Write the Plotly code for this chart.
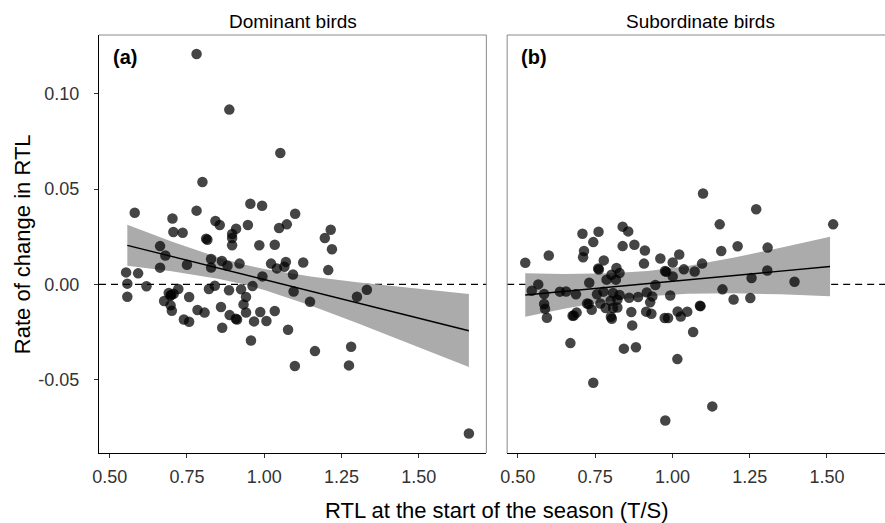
import plotly.graph_objects as go

# ---------------- data ----------------
dom_x = [0.781, 0.887, 1.052, 0.800, 0.581, 0.703, 0.781, 0.842, 0.856, 0.909, 0.947, 0.955, 0.993,
         1.048, 1.073, 1.100, 1.215, 0.706, 0.736, 1.196, 1.219, 0.896, 0.896, 0.896, 0.812, 0.816,
         0.984, 1.034, 0.663, 0.680, 0.663, 0.750, 0.828, 0.828, 0.863, 0.881, 0.920, 1.022, 1.070,
         1.041, 1.065, 1.126, 1.207, 1.093, 0.994, 0.553, 0.592, 0.557, 0.619, 0.557, 0.691, 0.707,
         0.697, 0.699, 0.722, 0.676, 0.697, 0.701, 0.757, 0.740, 0.757, 0.784, 0.807, 0.821, 0.840,
         0.886, 0.925, 0.962, 0.941, 0.933, 0.941, 0.860, 0.888, 0.908, 0.912, 0.987, 1.034, 0.967,
         1.007, 0.864, 0.957, 1.077, 1.095, 1.148, 1.300, 1.332, 1.164, 1.099, 1.281, 1.274, 1.662]
dom_y = [0.1209, 0.0917, 0.0689, 0.0537, 0.0376, 0.0346, 0.0387, 0.0333, 0.0312, 0.0292, 0.0312,
         0.0423, 0.0413, 0.0296, 0.0315, 0.0371, 0.0287, 0.0275, 0.0271, 0.0243, 0.0184, 0.0264,
         0.0243, 0.0205, 0.0240, 0.0234, 0.0205, 0.0208, 0.0201, 0.0152, 0.0088, 0.0103, 0.0133,
         0.0089, 0.0123, 0.0098, 0.0109, 0.0109, 0.0118, 0.0084, 0.0093, 0.0115, 0.0075, 0.0052,
         0.0042, 0.0063, 0.0058, 0.0004, -0.0010, -0.0065, -0.0045, -0.0049, -0.0059, -0.0055,
         -0.0024, -0.0087, -0.0110, -0.0138, -0.0066, -0.0184, -0.0196, -0.0134, -0.0148, -0.0024,
         -0.0007, -0.0031, -0.0026, -0.0009, -0.0066, -0.0105, -0.0147, -0.0119, -0.0161, -0.0180,
         -0.0184, -0.0145, -0.0140, -0.0194, -0.0192, -0.0227, -0.0294, -0.0238, -0.0037, -0.0091,
         -0.0065, -0.0028, -0.0350, -0.0428, -0.0327, -0.0425, -0.0782]

sub_x = [1.099, 1.271, 1.153, 1.520, 0.524, 0.600, 0.566, 0.545, 0.585, 0.585, 0.588, 0.594, 0.709,
         0.761, 0.839, 0.857, 0.744, 0.714, 0.711, 0.839, 0.877, 0.911, 0.908, 0.961, 1.001, 1.022,
         0.778, 0.760, 0.762, 0.819, 0.829, 0.803, 0.787, 0.817, 0.731, 0.976, 0.980, 1.001, 1.037,
         1.072, 1.096, 1.158, 1.211, 1.308, 1.307, 1.256, 1.395, 0.945, 1.162, 1.198, 1.252, 0.636,
         0.656, 0.688, 0.756, 0.777, 0.808, 0.829, 0.724, 0.729, 0.767, 0.739, 0.784, 0.800, 0.822,
         0.808, 0.822, 0.860, 0.889, 0.917, 0.935, 0.928, 0.993, 0.677, 0.681, 0.690, 0.801, 0.804,
         0.867, 0.870, 0.915, 0.932, 0.975, 0.986, 1.017, 1.048, 1.027, 1.089, 1.091, 1.067, 0.670,
         0.843, 0.882, 1.016, 0.744, 1.129, 0.977]
sub_y = [0.0477, 0.0394, 0.0315, 0.0315, 0.0114, 0.0152, 0.0000, -0.0033, -0.0050, -0.0103, -0.0128,
         -0.0175, 0.0266, 0.0276, 0.0303, 0.0278, 0.0222, 0.0175, 0.0142, 0.0201, 0.0208, 0.0178,
         0.0109, 0.0136, 0.0115, 0.0157, 0.0126, 0.0084, 0.0078, 0.0086, 0.0060, 0.0051, 0.0025,
         0.0025, 0.0009, 0.0070, 0.0066, 0.0042, 0.0079, 0.0068, 0.0109, 0.0175, 0.0200, 0.0193,
         0.0073, 0.0034, 0.0014, -0.0003, -0.0026, -0.0079, -0.0071, -0.0038, -0.0037, -0.0052,
         -0.0052, -0.0038, -0.0045, -0.0056, -0.0100, -0.0103, -0.0100, -0.0133, -0.0124, -0.0086,
         -0.0080, -0.0124, -0.0121, -0.0070, -0.0066, -0.0042, -0.0063, -0.0094, -0.0058, -0.0165,
         -0.0163, -0.0147, -0.0170, -0.0180, -0.0145, -0.0215, -0.0143, -0.0154, -0.0176, -0.0176,
         -0.0142, -0.0143, -0.0169, -0.0112, -0.0114, -0.0250, -0.0308, -0.0337, -0.0330, -0.0392,
         -0.0516, -0.0640, -0.0714]

# fitted line and 95% band
dom_fit_x = [0.557, 0.70, 0.85, 0.93, 1.00, 1.15, 1.30, 1.45, 1.662]
dom_fit_y = [0.0205, 0.0147, 0.0086, 0.0054, 0.0026, -0.0035, -0.0096, -0.0157, -0.0243]
dom_fit_lo = [0.0098, 0.0069, 0.0030, 0.0002, -0.0029, -0.0111, -0.0203, -0.0298, -0.0434]
dom_fit_hi = [0.0313, 0.0225, 0.0142, 0.0106, 0.0081, 0.0041, 0.0011, -0.0016, -0.0051]

sub_fit_x = [0.524, 0.65, 0.80, 0.92, 1.05, 1.20, 1.35, 1.51]
sub_fit_y = [-0.0056, -0.0037, -0.0014, 0.0004, 0.0024, 0.0047, 0.0070, 0.0094]
sub_fit_lo = [-0.0170, -0.0128, -0.0086, -0.0062, -0.0049, -0.0047, -0.0052, -0.0062]
sub_fit_hi = [0.0058, 0.0054, 0.0058, 0.0070, 0.0097, 0.0141, 0.0192, 0.0250]

x_tick_vals = [0.50, 0.75, 1.00, 1.25, 1.50]
x_tick_text = ["0.50", "0.75", "1.00", "1.25", "1.50"]
y_tick_vals = [-0.05, 0.00, 0.05, 0.10]
y_tick_text = ["-0.05", "0.00", "0.05", "0.10"]
panel_titles = ["Dominant birds", "Subordinate birds"]
panel_tags = ["(a)", "(b)"]
x_title = "RTL at the start of the season (T/S)"
y_title = "Rate of change in RTL"

# ---------------- geometry ----------------
W, H = 885, 523
L, T, B = 99.3, 35.3, 453.3      # screen pixels
PW, GAP = 387.2, 20.8
PX_PER_X = 309.0
X0 = 0.4654
Y_ZERO_PX, PX_PER_Y = 284.7, 1906.0
plot_w = W - L
x_range_a = [X0, X0 + PW / PX_PER_X]
x_range_b = [X0, X0 + (W - (L + PW + GAP)) / PX_PER_X]
y_range = [-(B - Y_ZERO_PX) / PX_PER_Y, (Y_ZERO_PX - T) / PX_PER_Y]
dom_a = [0, PW / plot_w]
dom_b = [(PW + GAP) / plot_w, 1]

PT_COLOR = "rgba(0,0,0,0.73)"
RIB_COLOR = "#ababab"
BORDER = "#8a8a8a"
TICK_COLOR = "#333333"
FONT = "Liberation Sans, Arial, sans-serif"

fig = go.Figure()
for xs, ys, fx, fy, flo, fhi, xa, ya in [
        (dom_x, dom_y, dom_fit_x, dom_fit_y, dom_fit_lo, dom_fit_hi, "x", "y"),
        (sub_x, sub_y, sub_fit_x, sub_fit_y, sub_fit_lo, sub_fit_hi, "x2", "y2")]:
    fig.add_trace(go.Scatter(
        x=list(fx) + list(fx[::-1]), y=list(fhi) + list(flo[::-1]),
        fill="toself", fillcolor=RIB_COLOR, line=dict(width=0), mode="lines",
        hoverinfo="skip", showlegend=False, xaxis=xa, yaxis=ya))
    fig.add_trace(go.Scatter(x=fx, y=fy, mode="lines", line=dict(color="black", width=1.4),
                             showlegend=False, xaxis=xa, yaxis=ya))
    fig.add_trace(go.Scatter(x=xs, y=ys, mode="markers",
                             marker=dict(color=PT_COLOR, size=10.5, line=dict(width=0)),
                             showlegend=False, xaxis=xa, yaxis=ya))

common_x = dict(tickvals=x_tick_vals, ticktext=x_tick_text, ticks="outside", ticklen=4,
                tickwidth=1, tickcolor=TICK_COLOR, showline=True, linecolor="black", linewidth=1.1,
                showgrid=False, zeroline=False, ticklabelstandoff=3,
                tickfont=dict(family=FONT, size=18, color=TICK_COLOR))
fig.update_layout(
    width=W, height=H,
    margin=dict(l=L, r=0, t=T, b=H - B, pad=0),
    paper_bgcolor="white", plot_bgcolor="white",
    xaxis=dict(domain=dom_a, range=x_range_a, anchor="y", **common_x),
    xaxis2=dict(domain=dom_b, range=x_range_b, anchor="y2", **common_x),
    yaxis=dict(domain=[0, 1], range=y_range, anchor="x", tickvals=y_tick_vals,
               ticktext=y_tick_text, ticks="outside", ticklen=4, tickwidth=1,
               tickcolor=TICK_COLOR, showline=True, linecolor="black", linewidth=1.1,
               showgrid=False, zeroline=False, ticklabelstandoff=11,
               tickfont=dict(family=FONT, size=18, color=TICK_COLOR)),
    yaxis2=dict(domain=[0, 1], range=y_range, anchor="x2", matches="y", showticklabels=False,
                ticks="", showline=False, showgrid=False, zeroline=False),
    font=dict(family=FONT, color="black"),
)

shapes = []
for xr, yr in [("x domain", "y"), ("x2 domain", "y2")]:
    shapes.append(dict(type="line", xref=xr, yref=yr, x0=0, x1=1, y0=0, y1=0,
                       line=dict(color="black", width=1.1, dash="7px,5px"), layer="below"))
shapes += [
    dict(type="line", xref="x domain", yref="y domain", x0=0, x1=1, y0=1, y1=1,
         line=dict(color=BORDER, width=1)),
    dict(type="line", xref="x domain", yref="y domain", x0=1, x1=1, y0=0, y1=1,
         line=dict(color=BORDER, width=1)),
    dict(type="line", xref="x2 domain", yref="y2 domain", x0=0, x1=1, y0=1, y1=1,
         line=dict(color=BORDER, width=1)),
    dict(type="line", xref="x2 domain", yref="y2 domain", x0=0, x1=0, y0=0, y1=1,
         line=dict(color=BORDER, width=1)),
]
fig.update_layout(shapes=shapes)

b_center = (PW / 2) / (W - (L + PW + GAP))
ann = []
for xr, yr, title, tag, cx in [("x domain", "y domain", panel_titles[0], panel_tags[0], 0.5),
                               ("x2 domain", "y2 domain", panel_titles[1], panel_tags[1], b_center)]:
    ann.append(dict(xref=xr, yref=yr, x=cx, y=1, yshift=1, xanchor="center", yanchor="bottom",
                    text=title, showarrow=False, font=dict(family=FONT, size=19, color="black")))
    ann.append(dict(xref=xr, yref=yr, x=0, y=1, xshift=12, yshift=-9, xanchor="left", yanchor="top",
                    text="<b>%s</b>" % tag, showarrow=False,
                    font=dict(family=FONT, size=20, color="black")))
ann.append(dict(xref="paper", yref="paper", x=(497 - L) / plot_w, y=(B - 511) / (B - T),
                xanchor="center", yanchor="middle", text=x_title, showarrow=False,
                font=dict(family=FONT, size=22, color="black")))
ann.append(dict(xref="paper", yref="paper", x=(22.5 - L) / plot_w, y=0.5, textangle=-90,
                xanchor="center", yanchor="middle", text=y_title, showarrow=False,
                font=dict(family=FONT, size=22, color="black")))
fig.update_layout(annotations=ann)

fig.write_html("out.html", config={"displayModeBar": False},
               post_script="document.body.style.margin='0px';"
                           "document.documentElement.style.overflow='hidden';")
